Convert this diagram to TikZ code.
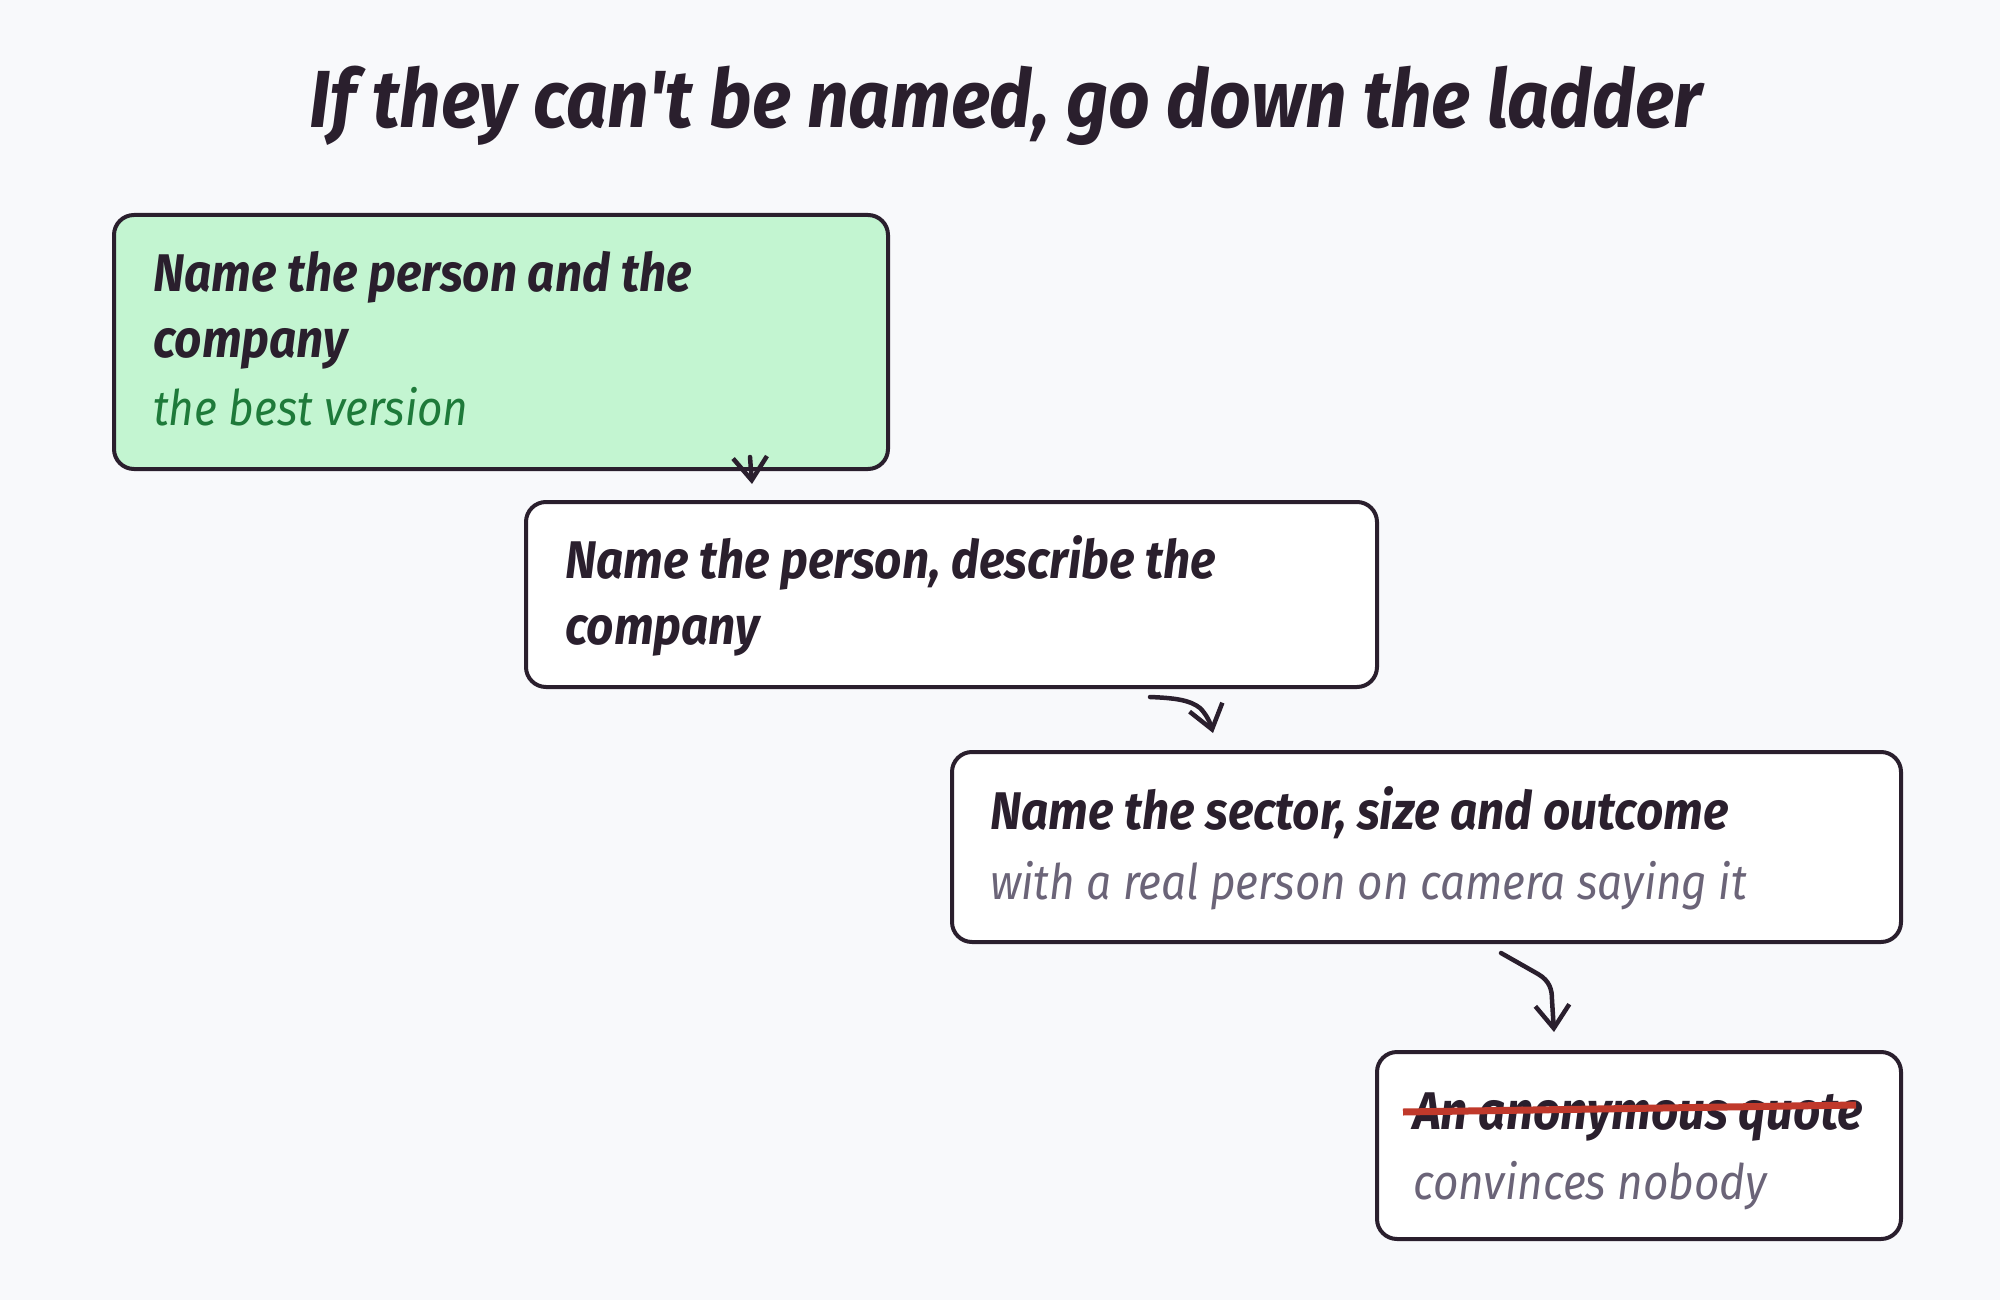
\documentclass[tikz,border=0pt]{standalone}
\usepackage{fontspec}
\setmainfont{Fira Sans}
\newfontfamily\hand{Fira Sans}[FakeStretch=0.9]
\usetikzlibrary{arrows.meta}
\definecolor{bgc}{HTML}{F8F9FB}
\definecolor{ink}{HTML}{2A1F2D}
\definecolor{mint}{HTML}{C3F5D1}
\definecolor{leaf}{HTML}{1E7A3A}
\definecolor{muted}{HTML}{6B6478}
\definecolor{strike}{HTML}{C0392B}
\tikzset{
  stepbox/.style={draw=ink, line width=4pt, rounded corners=20pt, fill=white, anchor=north west, inner sep=0pt},
  mainline/.style={anchor=base west, inner sep=0pt, text=ink, font=\hand\itshape\bfseries\fontsize{53}{63}\selectfont},
  subline/.style={anchor=base west, inner sep=0pt, font=\hand\itshape\fontsize{49}{58}\selectfont},
  arr/.style={draw=ink, line width=4.5pt, line cap=round, line join=round, -{Straight Barb[length=23pt,width=34pt,line width=4.5pt]}}
}
\begin{document}
\begin{tikzpicture}[x=1pt,y=-1pt]
\fill[bgc] (0,0) rectangle (2000,1300);
\useasboundingbox (0,0) rectangle (2000,1300);

\node[anchor=base, inner sep=0pt, text=ink, font=\hand\itshape\bfseries\fontsize{81}{90}\selectfont] (title) at (1006,128) {If they can't be named, go down the ladder};

% box 1
\node[stepbox, fill=mint, minimum width=774pt, minimum height=254pt] (b1) at (112,213) {};
\node[mainline] (t1a) at (153,291) {Name the person and the};
\node[mainline] (t1b) at (153,357) {company};
\node[subline, text=leaf] (t1c) at (153,425) {the best version};

% box 2
\node[stepbox, minimum width=851pt, minimum height=185pt] (b2) at (524,500) {};
\node[mainline] (t2a) at (565,578) {Name the person, describe the};
\node[mainline] (t2b) at (565,644) {company};

% box 3
\node[stepbox, minimum width=949pt, minimum height=190pt] (b3) at (950,750) {};
\node[mainline] (t3a) at (990,829) {Name the sector, size and outcome};
\node[subline, text=muted] (t3b) at (990,899) {with a real person on camera saying it};

% box 4
\node[stepbox, minimum width=524pt, minimum height=187pt] (b4) at (1375,1050) {};
\node[mainline] (t4a) at (1413,1129) {An anonymous quote};
\node[subline, text=muted] (t4b) at (1413,1199) {convinces nobody};
\coordinate (s1) at ([xshift=-10pt,yshift=17pt]t4a.base west);
\coordinate (s2) at ([yshift=24pt]t4a.base west -| 1856,0);
\draw[strike, line width=7pt] (s1) -- (s2);

% arrows
\coordinate (a1s) at (750,457);
\coordinate (a1e) at (752,484);
\draw[arr] (a1s) -- (a1e);

\coordinate (a2s) at (1150,697);
\coordinate (a2e) at (1213,733);
\draw[arr] (a2s) .. controls (1175,698) and (1190,700) .. (1200,708) .. controls (1206,714) and (1210,722) .. (a2e);

\coordinate (a3s) at (1501,953);
\coordinate (a3e) at (1554,1032);
\draw[arr] (a3s) -- (1538,974) .. controls (1550,981) and (1552,990) .. (1552,1000) -- (a3e);
\end{tikzpicture}
\end{document}
